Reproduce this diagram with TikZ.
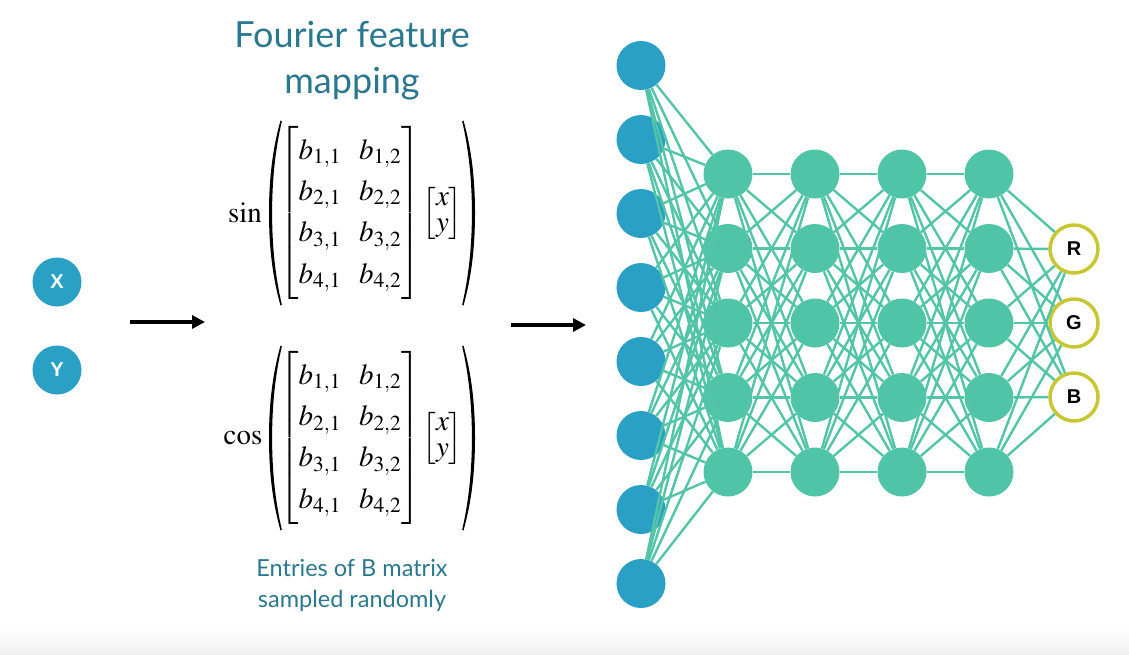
\documentclass[tikz,border=0pt]{standalone}
\usepackage{amsmath}
\usepackage{mathptmx}
\usepackage{fontspec}
\setmainfont{Liberation Serif}
\newfontfamily\titlefont{Lato}
\newfontfamily\labfont{Liberation Sans}
\usetikzlibrary{arrows.meta}
\definecolor{inblue}{RGB}{42,160,197}
\definecolor{hgreen}{RGB}{80,196,166}
\definecolor{edgegreen}{RGB}{82,196,168}
\definecolor{outline}{RGB}{199,199,52}
\definecolor{teal}{RGB}{42,120,142}
\newcommand{\bmat}{{\renewcommand\arraystretch{1.18}\setlength\arraycolsep{9pt}\begin{bmatrix} b_{1,1} & b_{1,2}\\ b_{2,1} & b_{2,2}\\ b_{3,1} & b_{3,2}\\ b_{4,1} & b_{4,2}\end{bmatrix}}}
\newcommand{\xyvec}{{\renewcommand\arraystretch{0.75}\begin{bmatrix} x\\ y\end{bmatrix}}}
\tikzset{
  innode/.style={circle,fill=inblue,minimum size=49pt,inner sep=0pt,text=white,font=\labfont\bfseries\fontsize{20}{20}\selectfont},
  hidnode/.style={circle,fill=hgreen,minimum size=49pt,inner sep=0pt},
  outnode/.style={circle,draw=outline,line width=3.5pt,fill=white,minimum size=48pt,inner sep=0pt,font=\labfont\bfseries\fontsize{20}{20}\selectfont},
  conn/.style={draw=edgegreen,line width=2.4pt},
  bigarrow/.style={draw=black,line width=3.3pt,-{Triangle[length=13pt,width=13pt]}},
  titletext/.style={text=teal,font=\titlefont\fontsize{36}{36}\selectfont},
  captext/.style={text=teal,font=\titlefont\fontsize{23.5}{23.5}\selectfont},
  mathblk/.style={inner sep=0pt,font=\fontsize{29}{35}\selectfont},
  pics/parenshape/.style={code={
    \fill[black] (5.5,-92.5) .. controls (-3,-62) and (-6,-32) .. (-6,0)
      .. controls (-6,32) and (-3,62) .. (5.5,92.5) -- (6.8,91.6)
      .. controls (0,62) and (-2.9,32) .. (-2.9,0)
      .. controls (-2.9,-32) and (0,-62) .. (6.8,-91.6) -- cycle;
  }}
}
\begin{document}
\begin{tikzpicture}[x=1pt,y=-1pt]
\useasboundingbox (0,0) rectangle (1129,654);
\shade[top color=white,bottom color=black!6] (0,628) rectangle (1129,654);
% inputs
\node[innode] (X) at (57,282) {X};
\node[innode] (Y) at (57,370) {Y};
% titles
\node[titletext] (t1) at (352,35) {Fourier feature};
\node[titletext] (t2) at (352,84) {mapping};
% math blocks
\node[mathblk] (sinl) at (245,213) {$\sin$};
\pic at (275,213) {parenshape};
\node[mathblk] (sinm) at (350,213) {$\bmat$};
\node[mathblk] (sinv) at (442.5,213) {$\xyvec$};
\pic[xscale=-1] at (469,213) {parenshape};
\node[mathblk] (cosl) at (243,438) {$\cos$};
\pic at (275,438) {parenshape};
\node[mathblk] (cosm) at (350,438) {$\bmat$};
\node[mathblk] (cosv) at (442.5,438) {$\xyvec$};
\pic[xscale=-1] at (469,438) {parenshape};
\node[captext] (c1) at (352,568) {Entries of B matrix};
\node[captext] (c2) at (352,601) {sampled randomly};
% arrows
\coordinate (a1s) at (130,322);
\coordinate (a1e) at (205,322);
\coordinate (a2s) at (511,325);
\coordinate (a2e) at (586,325);
\draw[bigarrow] (a1s) -- (a1e);
\draw[bigarrow] (a2s) -- (a2e);
% network nodes
\foreach \i in {0,...,7}{
  \node[innode] (i\i) at (641,65.5+74*\i) {};
}
\foreach \l/\x in {1/728,2/815,3/902,4/989}{
  \foreach \j in {0,...,4}{
    \node[hidnode] (h\l-\j) at (\x,174+74.5*\j) {};
  }
}
\node[outnode] (oR) at (1074,249) {R};
\node[outnode] (oG) at (1074,323) {G};
\node[outnode] (oB) at (1074,397) {B};
% connections
\foreach \i in {0,...,7}{
  \foreach \j in {0,...,4}{
    \draw[conn] (i\i) -- (h1-\j);
  }
}
\foreach \l/\m in {1/2,2/3,3/4}{
  \foreach \i in {0,...,4}{
    \foreach \j in {0,...,4}{
      \draw[conn] (h\l-\i) -- (h\m-\j);
    }
  }
}
\foreach \i in {0,...,4}{
  \foreach \o in {oR,oG,oB}{
    \draw[conn] (h4-\i) -- (\o);
  }
}
\end{tikzpicture}
\end{document}
